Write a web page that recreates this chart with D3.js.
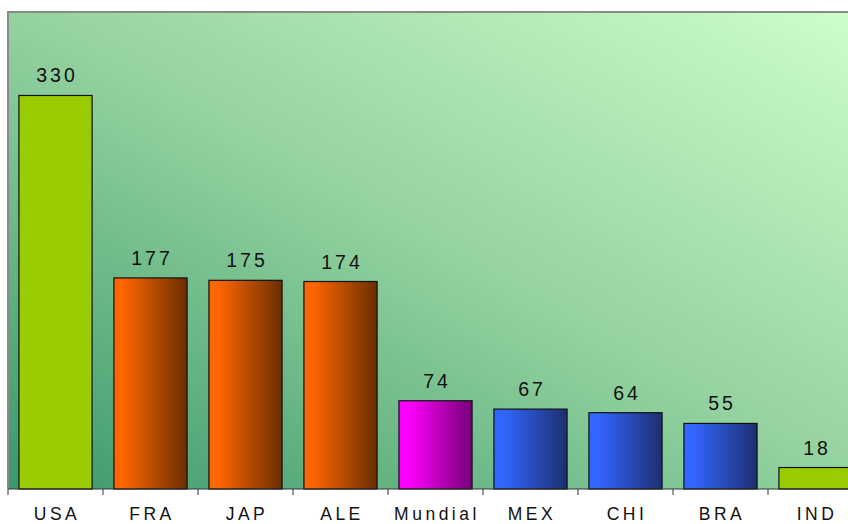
<!DOCTYPE html>
<html>
<head>
<meta charset="utf-8">
<script src="https://cdn.jsdelivr.net/npm/d3@7/dist/d3.min.js"></script>
<style>
  html, body { margin: 0; padding: 0; background: #ffffff; }
  svg { display: block; }
</style>
</head>
<body>
<svg id="chart" width="848" height="524"></svg>
<script>
// Countries and their values
const categories = ["USA", "FRA", "JAP", "ALE", "Mundial", "MEX", "CHI", "BRA", "IND"];
const values = [330, 177, 175, 174, 74, 67, 64, 55, 18];
// Colour group of each bar: lime (flat), orange, magenta, blue
const groups = ["lime", "orange", "orange", "orange", "magenta", "blue", "blue", "blue", "lime"];

const palette = {
  lime: { light: "#99cc00", dark: "#99cc00" },
  orange: { light: "#ff6600", dark: "#6a2e00" },
  magenta: { light: "#ff00ff", dark: "#750075" },
  blue: { light: "#3366ff", dark: "#1c2f70" }
};

const plot = { left: 8, top: 12, bottom: 489 };
const bandW = 95;
plot.right = plot.left + bandW * categories.length;

const svg = d3.select("#chart");
const defs = svg.append("defs");

// Background gradient of the plot area: dark teal bottom-left to pale green top-right
const bg = defs.append("linearGradient")
  .attr("id", "bgGrad")
  .attr("x1", 0).attr("y1", 1).attr("x2", 1).attr("y2", 0);
bg.append("stop").attr("offset", 0).attr("stop-color", "#3a986a");
bg.append("stop").attr("offset", 0.5).attr("stop-color", "#94d2a0");
bg.append("stop").attr("offset", 1).attr("stop-color", "#ccffcc");

// Horizontal shading for the bars
Object.entries(palette).forEach(([key, c]) => {
  const g = defs.append("linearGradient")
    .attr("id", "bar-" + key)
    .attr("x1", 0).attr("y1", 0).attr("x2", 1).attr("y2", 0);
  g.append("stop").attr("offset", 0).attr("stop-color", c.light);
  g.append("stop").attr("offset", 0.12).attr("stop-color", c.light);
  g.append("stop").attr("offset", 1).attr("stop-color", c.dark);
});

const x = d3.scaleBand()
  .domain(categories)
  .range([plot.left, plot.right])
  .paddingInner(0.23)
  .paddingOuter(0.115);

const y = d3.scaleLinear()
  .domain([0, 400])
  .range([plot.bottom, plot.top]);

// Plot area
svg.append("rect")
  .attr("x", plot.left)
  .attr("y", plot.top)
  .attr("width", plot.right - plot.left)
  .attr("height", plot.bottom - plot.top)
  .attr("fill", "url(#bgGrad)");

// Border on the top and left edges
svg.append("path")
  .attr("d", `M${plot.left},${plot.bottom} V${plot.top} H${plot.right}`)
  .attr("fill", "none")
  .attr("stroke", "#8a8a8a")
  .attr("stroke-width", 2);

const data = categories.map((c, i) => ({ cat: c, value: values[i], group: groups[i] }));

// Bars
svg.append("g")
  .selectAll("rect")
  .data(data)
  .join("rect")
  .attr("x", d => x(d.cat))
  .attr("y", d => y(d.value))
  .attr("width", x.bandwidth())
  .attr("height", d => y(0) - y(d.value))
  .attr("fill", d => `url(#bar-${d.group})`)
  .attr("stroke", "#111")
  .attr("stroke-width", 1.2);

// Value labels above bars
svg.append("g")
  .selectAll("text")
  .data(data)
  .join("text")
  .attr("x", d => x(d.cat) + x.bandwidth() / 2 + 1.5)
  .attr("y", d => y(d.value) - 13)
  .attr("text-anchor", "middle")
  .attr("font-family", "Liberation Sans, Arial, sans-serif")
  .attr("font-size", 19.5)
  .attr("letter-spacing", 3)
  .attr("fill", "#111")
  .text(d => d.value);

// Category axis with ticks at the band boundaries
const axis = svg.append("g");
axis.append("line")
  .attr("x1", plot.left).attr("x2", plot.right)
  .attr("y1", plot.bottom).attr("y2", plot.bottom)
  .attr("stroke", "#333")
  .attr("stroke-width", 1.2);

const boundaries = categories.map(c => x(c) - x.step() * x.paddingInner() / 2);
axis.selectAll("line.tick")
  .data(boundaries)
  .join("line")
  .attr("class", "tick")
  .attr("x1", d => d).attr("x2", d => d)
  .attr("y1", plot.bottom).attr("y2", plot.bottom + 6)
  .attr("stroke", "#333")
  .attr("stroke-width", 1);

axis.selectAll("text")
  .data(categories)
  .join("text")
  .attr("x", d => x(d) + x.bandwidth() / 2 + 1.5)
  .attr("y", 520)
  .attr("text-anchor", "middle")
  .attr("font-family", "Liberation Sans, Arial, sans-serif")
  .attr("font-size", 17.5)
  .attr("letter-spacing", 3.5)
  .attr("fill", "#111")
  .text(d => d);
</script>
</body>
</html>
